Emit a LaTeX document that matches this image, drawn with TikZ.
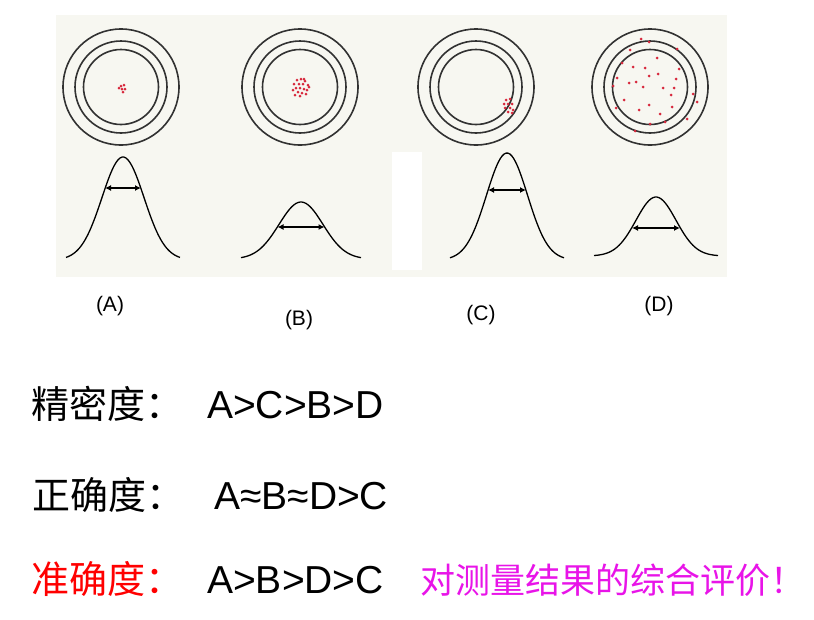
\documentclass[tikz,border=0pt]{standalone}
\usepackage{fontspec}
\setmainfont{Liberation Sans}
\newfontfamily\cjkfont{Noto Sans CJK SC}
\usepackage{xcolor}
\usetikzlibrary{arrows.meta}

\definecolor{panelbg}{RGB}{247,247,241}
\definecolor{ringgray}{RGB}{50,50,50}
\definecolor{shotred}{RGB}{215,40,60}
\definecolor{notemag}{RGB}{232,20,232}

\begin{document}
\begin{tikzpicture}[x=1pt,y=-1pt,
	ring/.style={line width=1.6pt,ringgray},
	bell/.style={line width=1.3pt,black,smooth,samples=60},
	spread/.style={{Latex[length=6pt,width=6pt]}-{Latex[length=6pt,width=6pt]},line width=1.4pt},
	shot/.style={fill=shotred},
	tag/.style={font=\fontsize{21}{24}\selectfont,anchor=base,inner sep=0pt},
	term/.style={font=\cjkfont\fontsize{38}{44}\selectfont,anchor=base west,inner sep=0pt},
	order/.style={font=\fontsize{39}{45}\selectfont,anchor=base west,inner sep=0pt},
	remark/.style={font=\cjkfont\fontsize{35}{40}\selectfont,anchor=base west,inner sep=0pt,text=notemag}]
		\useasboundingbox (0,0) rectangle (814,619);
		% panel with the four targets
		\fill[panelbg] (56,15) rectangle (727,277);
		\fill[white] (392,152) rectangle (422,270);
		\foreach \cx in {121,300,476,650}{
			\draw[ring] (\cx,87) circle (58);
			\draw[ring] (\cx,87) circle (46);
			\draw[ring] (\cx,87) circle (37.5);
		}
		% shots
		\foreach \sx/\sy in {121/86,124/85,122/89,125/89,123/92,119/88}
			\fill[shot] (\sx,\sy) circle (1.5);
		\foreach \sx/\sy in {297/80,301/79,305/81,294/84,299/84,303/84,308/85,296/88,300/88,304/89,307/90,293/90,298/92,302/93,306/94,300/96,295/95,309/87,304/79}
			\fill[shot] (\sx,\sy) circle (1.5);
		\foreach \sx/\sy in {506/100,510/99,504/104,508/104,512/104,505/108,510/108,513/110,508/112,512/113}
			\fill[shot] (\sx,\sy) circle (1.5);
		\foreach \sx/\sy in {641/39,649/42,630/50,677/49,657/58,622/63,633/67,645/68,679/69,649/76,658/74,617/78,676/79,629/83,636/82,643/87,663/88,674/88,613/86,671/95,693/94,624/100,649/105,639/110,616/108,672/107,697/102,660/114,687/119,650/124,665/122,635/131}
			\fill[shot] (\sx,\sy) circle (1.5);
		% distributions
		\foreach \px/\base/\ht/\sg/\hw/\aw/\ay [count=\i] in {123/260/103/21/57/18/188, 301/259/57/22/60/23.5/227, 507/260/107/20.5/57/19/190, 656/256/59/20/62/24/228}{
			\draw[bell] plot[domain=-\hw:\hw] ({\px+\x},{\base-\ht*exp(-(\x*\x)/(2*\sg*\sg))});
			\coordinate (w\i L) at (\px-\aw,\ay);
			\coordinate (w\i R) at (\px+\aw,\ay);
			\draw[spread] (w\i L) -- (w\i R);
		}
		\node[tag] (tagA) at (110,311) {(A)};
		\node[tag] (tagB) at (299,325) {(B)};
		\node[tag] (tagC) at (481,320) {(C)};
		\node[tag] (tagD) at (659,311) {(D)};
		% rankings
		\node[term] (precision) at (31,418) {精密度：};
		\node[order] (precisionrank) at (207,418) {A>C>B>D};
		\node[term] (trueness) at (32,509) {正确度：};
		\node[order] (truenessrank) at (214,509) {A≈B≈D>C};
		\node[term,text=red] (accuracy) at (31,593) {准确度：};
		\node[order] (accuracyrank) at (207,593) {A>B>D>C};
		\node[remark] (note) at (420,593) {对测量结果的综合评价！};
	\end{tikzpicture}
\end{document}
